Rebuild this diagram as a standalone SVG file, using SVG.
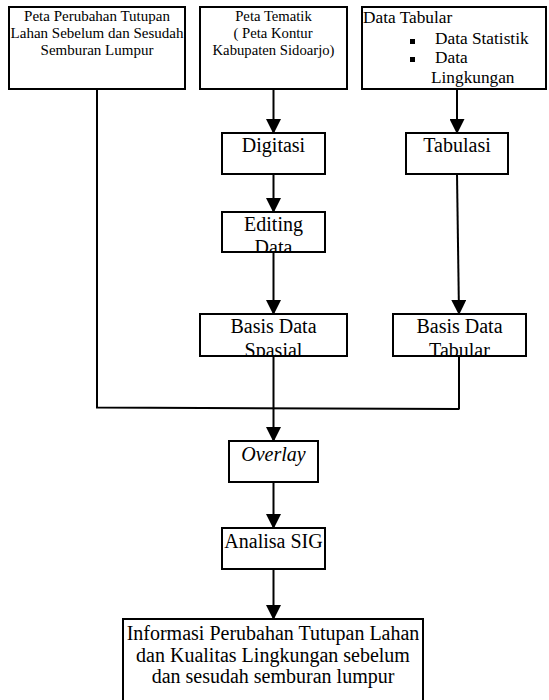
<svg xmlns="http://www.w3.org/2000/svg" width="549" height="700" viewBox="0 0 549 700" font-family="'Liberation Serif', 'Times New Roman', serif">
<style>
  .box { fill: #fff; stroke: #000; stroke-width: 2; }
  .t { font-family: 'Liberation Serif', 'Times New Roman', serif; fill: #000; }
  .c { text-anchor: middle; }
  .s15 { font-size: 15px; }
  .s147 { font-size: 14.7px; }
  .s17 { font-size: 17.3px; }
  .s20 { font-size: 20px; }
  .conn { fill: none; stroke: #000; stroke-width: 2; }
</style>
<defs>
  <marker id="arr" markerUnits="userSpaceOnUse" markerWidth="15" markerHeight="15" refX="14" refY="7.5" orient="auto">
    <path d="M0,0 L15,7.5 L0,15 z" fill="#000"/>
  </marker>
  <clipPath id="clipEdit"><rect x="222" y="212" width="103" height="40"/></clipPath>
  <clipPath id="clipSpasial"><rect x="200" y="314" width="147" height="42"/></clipPath>
  <clipPath id="clipTabular"><rect x="393" y="314" width="133" height="42"/></clipPath>
</defs>
<rect width="549" height="700" fill="#fff"/>

<g id="connectors">
  <line class="conn" x1="273.5" y1="89" x2="273.5" y2="133" marker-end="url(#arr)"/>
  <line class="conn" x1="457" y1="89" x2="457" y2="133" marker-end="url(#arr)"/>
  <line class="conn" x1="273.5" y1="174" x2="273.5" y2="212" marker-end="url(#arr)"/>
  <line class="conn" x1="273.5" y1="252" x2="273.5" y2="314" marker-end="url(#arr)"/>
  <line class="conn" x1="457" y1="174" x2="459" y2="314" marker-end="url(#arr)"/>
  <polyline class="conn" points="97,89 97,407.5 459.5,409"/>
  <line class="conn" x1="459" y1="356" x2="459" y2="409"/>
  <line class="conn" x1="273.5" y1="356" x2="273.5" y2="441" marker-end="url(#arr)"/>
  <line class="conn" x1="273.5" y1="482" x2="273.5" y2="528" marker-end="url(#arr)"/>
  <line class="conn" x1="273.5" y1="569" x2="273.5" y2="619" marker-end="url(#arr)"/>
</g>

<g id="peta-perubahan">
  <rect class="box" x="9" y="7" width="176" height="82"/>
  <text class="t c s15" x="97" y="21">Peta Perubahan Tutupan</text>
  <text class="t c s15" x="97" y="38">Lahan Sebelum dan Sesudah</text>
  <text class="t c s15" x="97" y="55">Semburan Lumpur</text>
</g>

<g id="peta-tematik">
  <rect class="box" x="200" y="7" width="147" height="82"/>
  <text class="t c s147" x="273.5" y="21">Peta Tematik</text>
  <text class="t c s147" x="273" y="38">( Peta Kontur</text>
  <text class="t c s147" x="273.5" y="55">Kabupaten Sidoarjo)</text>
</g>

<g id="data-tabular">
  <rect class="box" x="362" y="7" width="184" height="82"/>
  <text class="t s17" x="363" y="23">Data Tabular</text>
  <rect x="410" y="39" width="5" height="5" fill="#000"/>
  <text class="t s17" x="435" y="44">Data Statistik</text>
  <rect x="410" y="57" width="5" height="5" fill="#000"/>
  <text class="t s17" x="435" y="63">Data</text>
  <text class="t s17" x="431" y="83">Lingkungan</text>
</g>

<g id="digitasi">
  <rect class="box" x="222" y="133" width="103" height="41"/>
  <text class="t c s20" x="273.5" y="152">Digitasi</text>
</g>

<g id="tabulasi">
  <rect class="box" x="406" y="133" width="102" height="41"/>
  <text class="t c s20" x="457" y="152">Tabulasi</text>
</g>

<g id="editing-data">
  <g clip-path="url(#clipEdit)">
    <text class="t c s20" x="273.5" y="231">Editing</text>
    <text class="t c s20" x="273.5" y="254">Data</text>
  </g>
  <rect class="box" x="222" y="212" width="103" height="40" style="fill:none"/>
</g>

<g id="basis-data-spasial">
  <g clip-path="url(#clipSpasial)">
    <text class="t c s20" x="273.5" y="333">Basis Data</text>
    <text class="t c s20" x="273.5" y="356.5">Spasial</text>
  </g>
  <rect class="box" x="200" y="314" width="147" height="42" style="fill:none"/>
</g>

<g id="basis-data-tabular">
  <g clip-path="url(#clipTabular)">
    <text class="t c s20" x="459.5" y="333">Basis Data</text>
    <text class="t c s20" x="459.5" y="356.5">Tabular</text>
  </g>
  <rect class="box" x="393" y="314" width="133" height="42" style="fill:none"/>
</g>

<g id="overlay">
  <rect class="box" x="229" y="441" width="89" height="41"/>
  <text class="t c s20" x="273.5" y="461" font-style="italic">Overlay</text>
</g>

<g id="analisa-sig">
  <rect class="box" x="222" y="528" width="103" height="41"/>
  <text class="t c s20" x="273.5" y="548">Analisa SIG</text>
</g>

<g id="informasi">
  <rect class="box" x="123" y="619" width="300" height="90"/>
  <text class="t c s20" x="273" y="640">Informasi Perubahan Tutupan Lahan</text>
  <text class="t c s20" x="273" y="661.5">dan Kualitas Lingkungan sebelum</text>
  <text class="t c s20" x="273" y="683">dan sesudah semburan lumpur</text>
</g>
</svg>
